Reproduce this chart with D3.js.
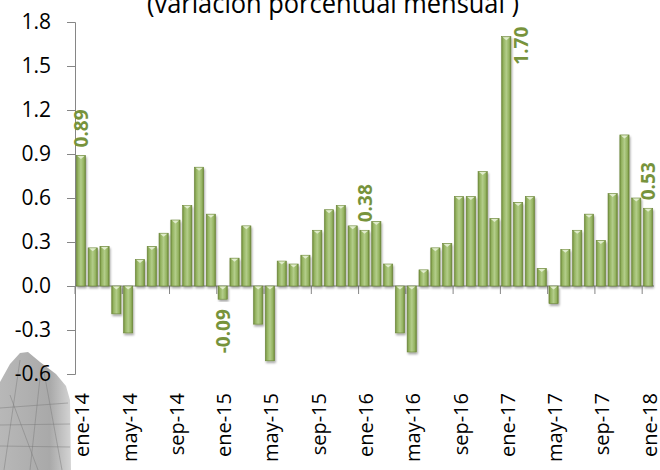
<!DOCTYPE html>
<html>
<head>
<meta charset="utf-8">
<script src="https://cdn.jsdelivr.net/npm/d3@7"></script>
<style>
  body { margin: 0; background: #fff; }
  svg { display: block; }
  text { font-family: "Open Sans", sans-serif; }
</style>
</head>
<body>
<div id="chart"></div>
<script>
'use strict';

// months ene-14 .. ene-18
var monthNames = ['ene', 'feb', 'mar', 'abr', 'may', 'jun', 'jul', 'ago', 'sep', 'oct', 'nov', 'dic'];
var years = [14, 15, 16, 17, 18];

var values = [
    0.89, 0.26, 0.27, -0.19, -0.32, 0.18, 0.27, 0.36, 0.45, 0.55, 0.81, 0.49,
    -0.09, 0.19, 0.41, -0.26, -0.51, 0.17, 0.15, 0.21, 0.38, 0.52, 0.55, 0.41,
    0.38, 0.44, 0.15, -0.32, -0.45, 0.11, 0.26, 0.29, 0.61, 0.61, 0.78, 0.46,
    1.70, 0.57, 0.61, 0.12, -0.12, 0.25, 0.38, 0.49, 0.31, 0.63, 1.03, 0.60,
    0.53
];

var yTicks = [-0.6, -0.3, 0, 0.3, 0.6, 0.9, 1.2, 1.5, 1.8];

// labelled bars: every january
var labelIdx = [0, 12, 24, 36, 48];

var categories = [];
years.forEach(function(y) {
    monthNames.forEach(function(m) {
        if (categories.length < values.length) categories.push(m + '-' + y);
    });
});

var width = 660, height = 470,
    margin = {top: 22, right: 6, bottom: 96, left: 75},
    innerW = width - margin.left - margin.right,
    innerH = height - margin.top - margin.bottom;

var svg = d3.select('#chart').append('svg')
    .attr('width', width)
    .attr('height', height);

var defs = svg.append('defs');
var grad = defs.append('linearGradient')
    .attr('id', 'barGrad')
    .attr('x1', '0%').attr('x2', '100%').attr('y1', '0%').attr('y2', '0%');
grad.append('stop').attr('offset', '0%').attr('stop-color', '#6e8a3a');
grad.append('stop').attr('offset', '18%').attr('stop-color', '#93b25f');
grad.append('stop').attr('offset', '50%').attr('stop-color', '#b3cd8a');
grad.append('stop').attr('offset', '82%').attr('stop-color', '#93b25f');
grad.append('stop').attr('offset', '100%').attr('stop-color', '#6a8537');

var shadow = defs.append('filter').attr('id', 'shadow')
    .attr('x', '-50%').attr('y', '-10%').attr('width', '200%').attr('height', '130%');
shadow.append('feDropShadow')
    .attr('dx', 1).attr('dy', 2).attr('stdDeviation', 1.2)
    .attr('flood-color', '#000').attr('flood-opacity', 0.35);

var wmGrad = defs.append('linearGradient')
    .attr('id', 'wmGrad')
    .attr('x1', '0%').attr('x2', '100%').attr('y1', '0%').attr('y2', '0%');
wmGrad.append('stop').attr('offset', '0%').attr('stop-color', '#b8b8b8');
wmGrad.append('stop').attr('offset', '70%').attr('stop-color', '#a9a9a9');
wmGrad.append('stop').attr('offset', '100%').attr('stop-color', '#d4d4d4');

// watermark sketch at the bottom left
var wm = svg.append('g').attr('class', 'watermark');
wm.append('path')
    .attr('d', 'M0,382 L10,364 L20,353 L28,352 L40,362 L56,374 L66,386 L70,400 L71,470 L0,470 Z')
    .attr('fill', 'url(#wmGrad)');
wm.append('path')
    .attr('d', 'M0,425 L70,424 M0,446 L70,447 M10,395 L38,470 M40,378 L30,470 M44,372 L62,470 M0,408 L68,403 M20,360 L4,470')
    .attr('stroke', '#7d7d7d')
    .attr('stroke-width', 0.7)
    .attr('fill', 'none')
    .attr('opacity', 0.7);

// title (cut at the top in the original)
svg.append('text')
    .attr('x', 333)
    .attr('y', 13)
    .attr('text-anchor', 'middle')
    .attr('font-size', 27)
    .attr('fill', '#000')
    .attr('textLength', 372)
    .attr('lengthAdjust', 'spacingAndGlyphs')
    .text('(variación porcentual mensual )');

var g = svg.append('g')
    .attr('transform', 'translate(' + margin.left + ',' + margin.top + ')');

var x = d3.scaleBand()
    .domain(categories)
    .range([0, innerW])
    .paddingInner(0.22)
    .paddingOuter(0.11);

var y = d3.scaleLinear()
    .domain([-0.6, 1.8])
    .range([innerH, 0]);

var step = x.step();

// y axis
var yAxis = g.append('g')
    .call(d3.axisLeft(y).tickValues(yTicks).tickSize(8).tickPadding(16)
        .tickFormat(d3.format('.1f')));
yAxis.selectAll('path, line').attr('stroke', '#868686');
yAxis.selectAll('text')
    .attr('font-size', 21)
    .attr('fill', '#000')
    .text(function(d) { return d3.format('.1f')(d).replace('−', '-'); });

// category ticks along the zero line (every 4 months, on boundaries)
var tickPos = d3.range(0, values.length + 1, 4);
g.selectAll('.xtick')
    .data(tickPos)
    .enter().append('line')
    .attr('class', 'xtick')
    .attr('x1', function(d) { return d * step; })
    .attr('x2', function(d) { return d * step; })
    .attr('y1', y(0))
    .attr('y2', y(0) + 8)
    .attr('stroke', '#868686');

g.append('line')
    .attr('x1', 0)
    .attr('x2', values.length * step)
    .attr('y1', y(0))
    .attr('y2', y(0))
    .attr('stroke', '#868686');

// bars
var bars = g.selectAll('.bar')
    .data(values)
    .enter().append('g')
    .attr('class', 'bar');

bars.append('rect')
    .attr('x', function(d, i) { return x(categories[i]); })
    .attr('width', x.bandwidth())
    .attr('y', function(d) { return y(Math.max(0, d)); })
    .attr('height', function(d) { return Math.abs(y(d) - y(0)); })
    .attr('fill', 'url(#barGrad)')
    .attr('stroke', '#6b8537')
    .attr('stroke-width', 0.6)
    .attr('filter', 'url(#shadow)');

// small highlight on the top of each bar
bars.append('path')
    .attr('d', function(d, i) {
        var bx = x(categories[i]), bw = x.bandwidth(), ty = y(Math.max(0, d));
        return 'M' + (bx + 1) + ',' + (ty + 0.5) + ' L' + (bx + bw - 1) + ',' + (ty + 0.5) +
            ' L' + (bx + bw / 2) + ',' + (ty + 3.5) + ' Z';
    })
    .attr('fill', '#e6f0d4')
    .attr('opacity', 0.9);

// data labels
g.selectAll('.dlabel')
    .data(labelIdx)
    .enter().append('text')
    .attr('class', 'dlabel')
    .attr('font-size', 19)
    .attr('font-weight', 'bold')
    .attr('fill', '#77933c')
    .attr('dominant-baseline', 'central')
    .attr('transform', function(i) {
        var v = values[i],
            cx = x(categories[i]) + x.bandwidth() / 2,
            ly;
        if (v < 0) {
            ly = y(v) + 10;
        } else if (y(v) - 50 < 0) {
            // no room above: put it beside the bar
            cx = cx + step + 3;
            ly = y(v) - 10;
        } else {
            ly = y(v) - 8;
        }
        return 'translate(' + cx + ',' + ly + ') rotate(-90)';
    })
    .attr('text-anchor', function(i) {
        var v = values[i];
        if (v < 0) return 'end';
        if (y(v) - 50 < 0) return 'end';
        return 'start';
    })
    .text(function(i) { return d3.format('.2f')(values[i]).replace('−', '-'); });

// category labels, every 4 months, at the bottom of the plot
var labelCats = categories.filter(function(c, i) { return i % 4 === 0; });
g.selectAll('.xlabel')
    .data(labelCats)
    .enter().append('text')
    .attr('class', 'xlabel')
    .attr('font-size', 20)
    .attr('fill', '#000')
    .attr('text-anchor', 'end')
    .attr('dominant-baseline', 'central')
    .attr('transform', function(c) {
        return 'translate(' + (x(c) + x.bandwidth() / 2 + 1) + ',' + (innerH + 19) + ') rotate(-90)';
    })
    .text(function(c) { return c; });
</script>
</body>
</html>
